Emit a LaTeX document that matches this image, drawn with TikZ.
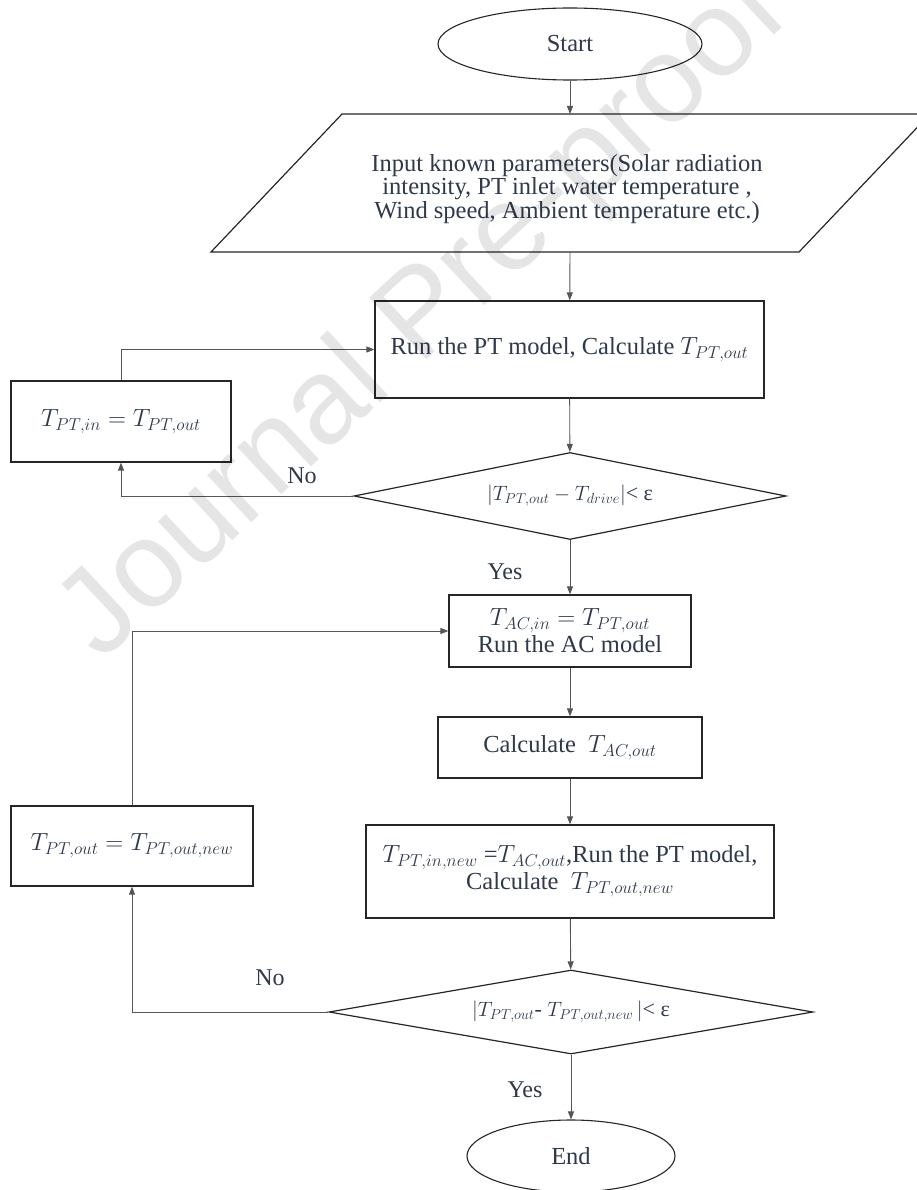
\documentclass[tikz,border=0pt]{standalone}
\usepackage{fontspec}
\setmainfont{Liberation Serif}
\newfontfamily\wmfont{Liberation Sans}
\usetikzlibrary{shapes.geometric,arrows.meta}
\definecolor{tc}{HTML}{2E3A4C}
\definecolor{lc}{HTML}{262626}
\definecolor{cc}{HTML}{555555}
\begin{document}
\begin{tikzpicture}[x=1pt,y=-1pt,
  every node/.style={text=tc},
  fbox/.style={draw=lc,line width=1.2pt,fill=white,align=center,inner sep=0pt,font=\fontsize{24.5}{27}\selectfont},
  term/.style={ellipse,draw=lc,line width=1.1pt,fill=white,inner sep=0pt,font=\fontsize{24.5}{27}\selectfont},
  dec/.style={diamond,aspect=5,draw=lc,line width=1.2pt,fill=white,inner sep=0pt,font=\fontsize{22}{26}\selectfont},
  conn/.style={draw=cc,line width=0.9pt,-{Triangle[length=8pt,width=6pt]}},
  lab/.style={font=\fontsize{24}{27}\selectfont,fill=white,inner sep=2pt}
]
\useasboundingbox (0,0) rectangle (917,1190);
\begin{scope}
\clip (0,0) rectangle (917,1190);

\node[term, minimum width=264pt, minimum height=72pt] (start) at (570,44) {Start};
\draw[draw=lc,line width=1.2pt,fill=white] (211,252) -- (342,114) -- (930,114) -- (799,252) -- cycle;
\node[align=center, font=\fontsize{24.5}{22}\selectfont] (inp) at (567,189) {Input known parameters(Solar radiation\\ intensity, PT inlet water temperature ,\\ Wind speed, Ambient temperature etc.)};
\coordinate (inpT) at (570,114);
\coordinate (inpB) at (570,252);

\node[fbox, minimum width=389pt, minimum height=97pt] (run) at (569.5,349.5) {Run the PT model, Calculate $T_{PT,out}$};
\node[fbox, minimum width=220pt, minimum height=81pt] (tin) at (121,421.5) {$T_{PT,in} = T_{PT,out}$};
\node[dec, minimum width=432pt, minimum height=87pt] (d1) at (570,496) {$|T_{PT,out}-T_{drive}|$< ε};
\node[fbox, minimum width=242pt, minimum height=72pt] (ac) at (570,631) {$T_{AC,in}=T_{PT,out}$\\Run the AC model};
\node[fbox, minimum width=264pt, minimum height=61pt] (cac) at (570,747.5) {Calculate~ $T_{AC,out}$};
\node[fbox, minimum width=408pt, minimum height=93pt] (pn) at (570,871.5) {$T_{PT,in,new}$ =$T_{AC,out}$,Run the PT model,\\ Calculate~ $T_{PT,out,new}$};
\node[fbox, minimum width=242pt, minimum height=80pt] (tout) at (132,846) {$T_{PT,out} = T_{PT,out,new}$};
\node[dec, minimum width=484pt, minimum height=84pt] (d2) at (571,1012) {$|T_{PT,out}$- $T_{PT,out,new}\,|$< ε};
\node[term, minimum width=208pt, minimum height=72pt] (end) at (571,1156) {End};

\node[lab] (no1) at (302,476) {No};
\node[lab] (yes1) at (505,572) {Yes};
\node[lab] (no2) at (270,978) {No};
\node[lab] (yes2) at (525,1090) {Yes};

\draw[conn] (start) -- (inpT);
\draw[conn] (inpB) -- (run);
\draw[conn] (run) -- (d1);
\draw[conn] (tin.north) |- (run.west);
\draw[conn] (d1.west) -| (tin.south);
\draw[conn] (d1) -- (ac);
\draw[conn] (ac) -- (cac);
\draw[conn] (cac) -- (pn);
\draw[conn] (pn) -- (d2);
\draw[conn] (d2.west) -| (tout.south);
\draw[conn] (tout.north) |- (ac.west);
\draw[conn] (d2) -- (end);

\node[rotate=43, font=\wmfont\fontsize{122}{130}\selectfont, text=black, text opacity=0.1] (wmk) at (425,318) {Journal Pre-proof};
\end{scope}
\end{tikzpicture}
\end{document}
